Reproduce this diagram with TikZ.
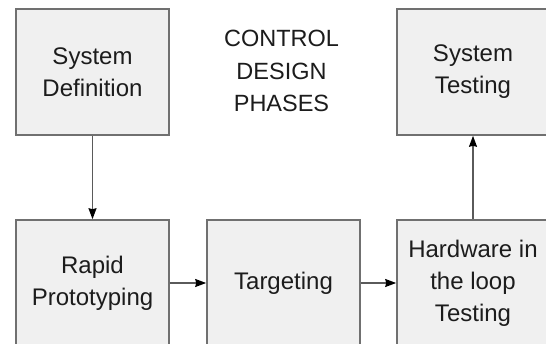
\documentclass[tikz,border=0pt]{standalone}
\usepackage{fontspec}
\setmainfont{Liberation Sans}
\usetikzlibrary{arrows.meta}
\definecolor{boxfill}{HTML}{F0F0F0}
\definecolor{boxline}{HTML}{707070}
\definecolor{wire}{HTML}{5A5A5A}
\definecolor{ink}{HTML}{1C1C1C}
\tikzset{
  phase/.style={draw=boxline, fill=boxfill, line width=1.6pt,
    minimum width=153pt, minimum height=126pt, inner sep=0pt,
    align=center, text=ink, font=\fontsize{24}{32}\selectfont},
  flow/.style={draw=wire, line width=1.3pt,
    -{Stealth[length=11pt,width=8pt,inset=1pt,color=black]}},
  heading/.style={align=center, text=ink, inner sep=0pt,
    font=\fontsize{23.5}{32.5}\selectfont}
}
\begin{document}
\begin{tikzpicture}[x=1pt,y=-1pt]
  \useasboundingbox (0,0) rectangle (546,344);
  \clip (0,0) rectangle (546,344);
  \fill[white] (0,0) rectangle (546,344);

  % top row
  \node[phase] (def)  at (92.5,72)  {System\\Definition};
  \node[phase, minimum width=152pt] (test) at (473,72) {System\\Testing};
  \node[heading] (title) at (281.5,71) {CONTROL\\DESIGN\\PHASES};

  % bottom row
  \node[phase] (rapid) at (92.5,283)  {Rapid\\Prototyping};
  \node[phase] (targ)  at (283.5,283) {Targeting};
  \node[phase, minimum width=152pt] (hil) at (473,283) {Hardware in\\the loop\\Testing};

  % flow between phases
  \draw[flow] (def.south) -- (rapid.north);
  \draw[flow] (rapid.east) -- (targ.west);
  \draw[flow] (targ.east) -- (hil.west);
  \draw[flow] (hil.north) -- (test.south);
\end{tikzpicture}
\end{document}
